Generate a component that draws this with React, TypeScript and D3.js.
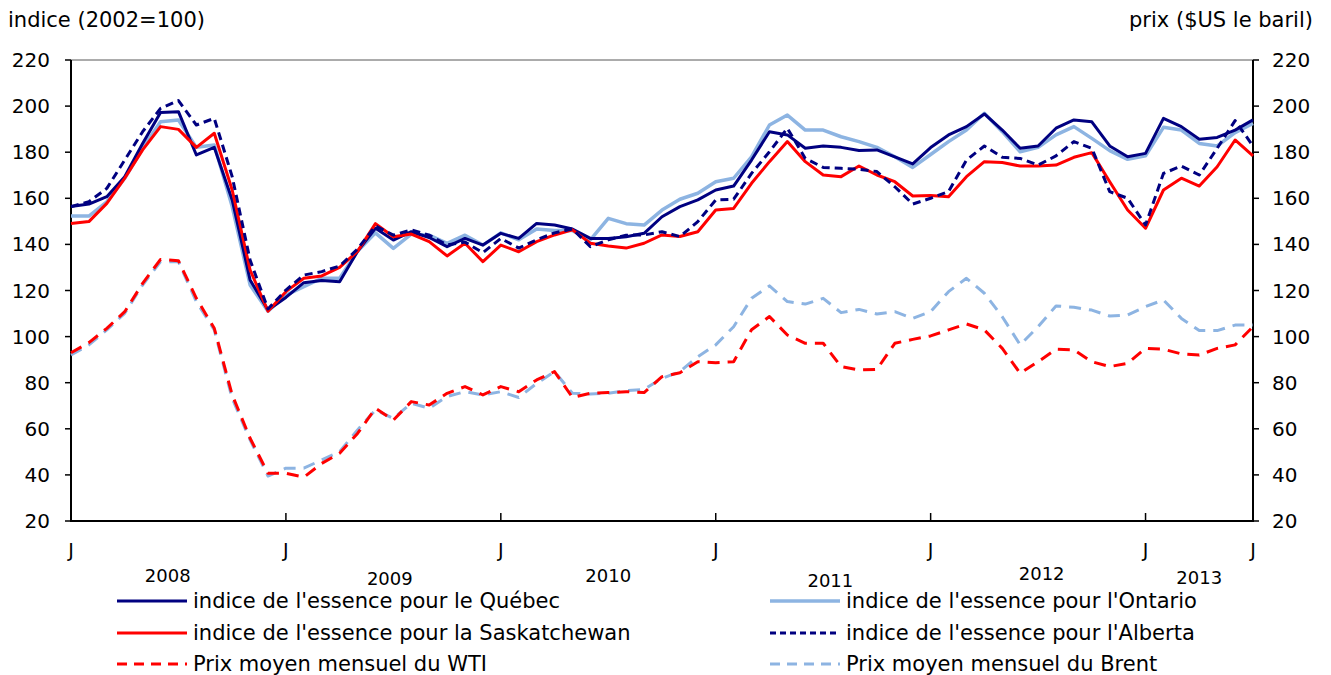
import React, { useEffect, useRef } from 'react';
import * as d3 from 'd3';

// monthly, Jan 2008 .. Jul 2013
const quebec = [156.4, 157.5, 160.7, 169.4, 183.8, 197.2, 197.6, 178.8, 182.1, 159.3, 124.6, 111.5, 117, 123.4, 124.3, 123.8, 137, 147, 141.9, 145.5, 143, 139, 142.6, 139.7, 144.8, 142.6, 149.1, 148.4, 146.7, 142.6, 142.6, 143.3, 144.8, 152, 156.4, 159.3, 163.6, 165.3, 176.6, 188.9, 187.5, 181.7, 182.7, 182.1, 180.7, 181, 178, 174.9, 182, 187.5, 191.1, 196.6, 189.6, 181.7, 182.7, 190.4, 194, 193.2, 182.7, 178, 179.5, 194.7, 191.1, 185.6, 186.4, 189.6, 194];
const ontario = [152.3, 152.3, 158.5, 168.7, 181.7, 193.2, 194, 182.1, 183.1, 156.4, 122.4, 111, 118, 121.7, 125.3, 125.3, 137, 145, 138.3, 144.5, 144, 140.5, 144, 139.7, 145, 142, 146.7, 146, 146, 142, 151.3, 149, 148.4, 154.9, 159.6, 162.2, 167.2, 168.7, 178, 191.8, 196.1, 189.6, 189.6, 186.7, 184.6, 182.1, 178, 173.4, 179, 184.6, 189.6, 196.9, 188.9, 180.2, 182.1, 187.5, 191.1, 186, 180.7, 176.9, 178.4, 190.8, 189.6, 183.8, 182.7, 188.5, 192.5];
const saskatchewan = [149.1, 149.9, 157.8, 168.7, 181, 191.1, 189.9, 182.1, 188.2, 163.6, 128.9, 111, 119.5, 125.3, 126.3, 130, 137, 149, 143.3, 144.5, 141.2, 135, 140.5, 132.5, 139.7, 136.8, 141.2, 144.1, 146.3, 140.5, 139.3, 138.4, 140.5, 144.1, 143.4, 145.5, 154.9, 155.6, 166.5, 175.9, 184.6, 175.9, 170.1, 169.4, 174, 170.1, 167.2, 161, 161.2, 160.7, 169.4, 175.9, 175.5, 174, 174, 174.4, 177.8, 179.8, 167.2, 154.9, 147, 163.6, 168.7, 165.3, 173.7, 185.3, 178.4];
const alberta = [156.4, 158.5, 164.3, 176.6, 188.9, 199, 202.4, 191.8, 194.7, 169.4, 133.2, 112, 120.2, 126.7, 128.2, 130.6, 138, 148, 144, 146.3, 144, 139.8, 141, 136.4, 142.6, 138.4, 142, 145, 146.7, 139, 142, 144, 144.1, 145.5, 143.4, 149.9, 159.3, 159.6, 170.8, 180.2, 190.4, 177.3, 173.4, 173, 172.6, 171.6, 165, 157.5, 160, 162.9, 176.6, 182.7, 177.8, 177.3, 174.4, 178.4, 184.6, 181.7, 162.9, 160, 148.4, 170.8, 174, 170.1, 181.7, 193.7, 182.7];
const wti = [93, 97.4, 103.6, 110.8, 123.1, 133.5, 132.9, 116.6, 103.6, 74.7, 55.9, 40.7, 40.7, 39, 45, 49.4, 58, 68.9, 63.8, 71.8, 70.3, 75.4, 78.3, 74.7, 78.3, 76.1, 81.2, 84.8, 73.6, 75.4, 75.7, 76.1, 75.7, 82.6, 84.3, 89.1, 88.7, 89.1, 103, 108.7, 100.7, 97.1, 97.1, 87, 85.5, 85.8, 97.1, 98.8, 100.3, 102.9, 105.5, 102.9, 94.9, 84.1, 89.1, 94.5, 94.2, 89.1, 87, 88.4, 94.9, 94.5, 92.5, 92, 94.9, 96.4, 104.3];
const brent = [92, 96.4, 102.9, 110.1, 122.4, 132.5, 132.5, 115.2, 102.9, 73.2, 55.2, 39.5, 42.9, 42.9, 46.5, 50.1, 59.5, 68.2, 64.5, 71.1, 68.9, 74, 76.1, 74.7, 76.1, 73.6, 79.7, 84.8, 75.4, 75.1, 75.4, 76.6, 77.1, 81.9, 84.8, 91.3, 96.4, 104.3, 116.6, 122, 115.2, 114.1, 116.6, 110.4, 111.8, 109.8, 110.8, 107.9, 110.8, 119.5, 125.3, 118.8, 108.6, 96.4, 104.3, 113.3, 112.7, 111.5, 108.9, 109.4, 113, 115.9, 107.9, 102.6, 102.6, 105, 105];

const yTicks = [20, 40, 60, 80, 100, 120, 140, 160, 180, 200, 220];
const janTicks = [0, 12, 24, 36, 48, 60, 66];
const years = ['2008', '2009', '2010', '2011', '2012', '2013'];
const yearPos = [5.4, 17.8, 30, 42.4, 54.2, 63];
const yearDy = [0, 3, 0, 5, -2, 2];

const series = [
  { name: "indice de l'essence pour l'Ontario", data: ontario, color: '#8db4e2', width: 3.5, dash: null, col: 1, row: 0 },
  { name: "indice de l'essence pour le Québec", data: quebec, color: '#000080', width: 3, dash: null, col: 0, row: 0 },
  { name: "indice de l'essence pour la Saskatchewan", data: saskatchewan, color: '#ff0000', width: 3, dash: null, col: 0, row: 1 },
  { name: "indice de l'essence pour l'Alberta", data: alberta, color: '#000080', width: 3, dash: '8,5', col: 1, row: 1 },
  { name: 'Prix moyen mensuel du Brent', data: brent, color: '#8db4e2', width: 3, dash: '12,8', col: 1, row: 2 },
  { name: 'Prix moyen mensuel du WTI', data: wti, color: '#ff0000', width: 3, dash: '12,8', col: 0, row: 2 },
];

const W = 1331;
const H = 675;
const FONT = '"DejaVu Sans", Verdana, sans-serif';

export default function App() {
  const svgRef = useRef<SVGSVGElement>(null);

  useEffect(() => {
    if (!svgRef.current) return;
    const svg = d3.select(svgRef.current);
    svg.selectAll('*').remove();

    const left = 71;
    const right = 1253;
    const top = 60;
    const bottom = 521;

    const x = d3.scaleLinear().domain([0, 66]).range([left, right]);
    const y = d3.scaleLinear().domain([20, 220]).range([bottom, top]);

    svg.append('rect').attr('width', W).attr('height', H).attr('fill', '#fff');

    // frame
    svg.append('line')
      .attr('x1', left).attr('x2', right).attr('y1', top).attr('y2', top)
      .attr('stroke', '#595959').attr('stroke-width', 1);

    const axisG = svg.append('g').attr('stroke', '#000').attr('stroke-width', 2);
    axisG.append('line').attr('x1', left).attr('x2', left).attr('y1', top).attr('y2', bottom + 1);
    axisG.append('line').attr('x1', right).attr('x2', right).attr('y1', top).attr('y2', bottom + 1);
    axisG.append('line').attr('x1', left).attr('x2', right).attr('y1', bottom).attr('y2', bottom);

    // y ticks both sides
    yTicks.forEach(t => {
      axisG.append('line').attr('x1', left - 6).attr('x2', left).attr('y1', y(t)).attr('y2', y(t)).attr('stroke-width', 1.5);
      axisG.append('line').attr('x1', right).attr('x2', right + 6).attr('y1', y(t)).attr('y2', y(t)).attr('stroke-width', 1.5);
      svg.append('text')
        .attr('x', 50).attr('y', y(t)).attr('dy', '0.35em')
        .attr('text-anchor', 'end').attr('font-size', 20).attr('font-family', FONT)
        .text(t);
      svg.append('text')
        .attr('x', 1272).attr('y', y(t)).attr('dy', '0.35em')
        .attr('text-anchor', 'start').attr('font-size', 20).attr('font-family', FONT)
        .text(t);
    });

    // x ticks (january)
    janTicks.forEach(m => {
      if (m > 0 && m < 66) {
        axisG.append('line').attr('x1', x(m)).attr('x2', x(m)).attr('y1', bottom - 8).attr('y2', bottom).attr('stroke-width', 1.5);
      }
      svg.append('text')
        .attr('x', x(m)).attr('y', 557)
        .attr('text-anchor', 'middle').attr('font-size', 19).attr('font-family', FONT)
        .text('J');
    });

    years.forEach((yr, i) => {
      svg.append('text')
        .attr('x', x(yearPos[i])).attr('y', 582 + yearDy[i])
        .attr('text-anchor', 'middle').attr('font-size', 18).attr('font-family', FONT)
        .text(yr);
    });

    svg.append('text')
      .attr('x', 8).attr('y', 27).attr('font-size', 21).attr('font-family', FONT)
      .text('indice (2002=100)');
    svg.append('text')
      .attr('x', 1313).attr('y', 27).attr('text-anchor', 'end').attr('font-size', 21).attr('font-family', FONT)
      .text('prix ($US le baril)');

    const line = d3.line<number>().x((_, i) => x(i)).y(d => y(d));

    series.forEach(s => {
      svg.append('path')
        .datum(s.data)
        .attr('d', line)
        .attr('fill', 'none')
        .attr('stroke', s.color)
        .attr('stroke-width', s.width)
        .attr('stroke-dasharray', s.dash)
        .attr('stroke-linejoin', 'round');
    });

    // legend
    const colX = [117, 770];
    const rowY = [601, 633, 664];
    series.forEach(s => {
      const lx = colX[s.col];
      const ly = rowY[s.row];
      svg.append('line')
        .attr('x1', lx).attr('x2', lx + 70).attr('y1', ly).attr('y2', ly)
        .attr('stroke', s.color).attr('stroke-width', s.width)
        .attr('stroke-dasharray', s.dash ? (s.dash === '8,5' ? '6,4' : '10,7') : null);
      svg.append('text')
        .attr('x', lx + 76).attr('y', ly).attr('dy', '0.35em')
        .attr('font-size', 21).attr('font-family', FONT)
        .text(s.name);
    });
  }, []);

  return (
    <svg ref={svgRef} width={W} height={H} style={{ position: 'absolute', left: 0, top: 0 }} />
  );
}
